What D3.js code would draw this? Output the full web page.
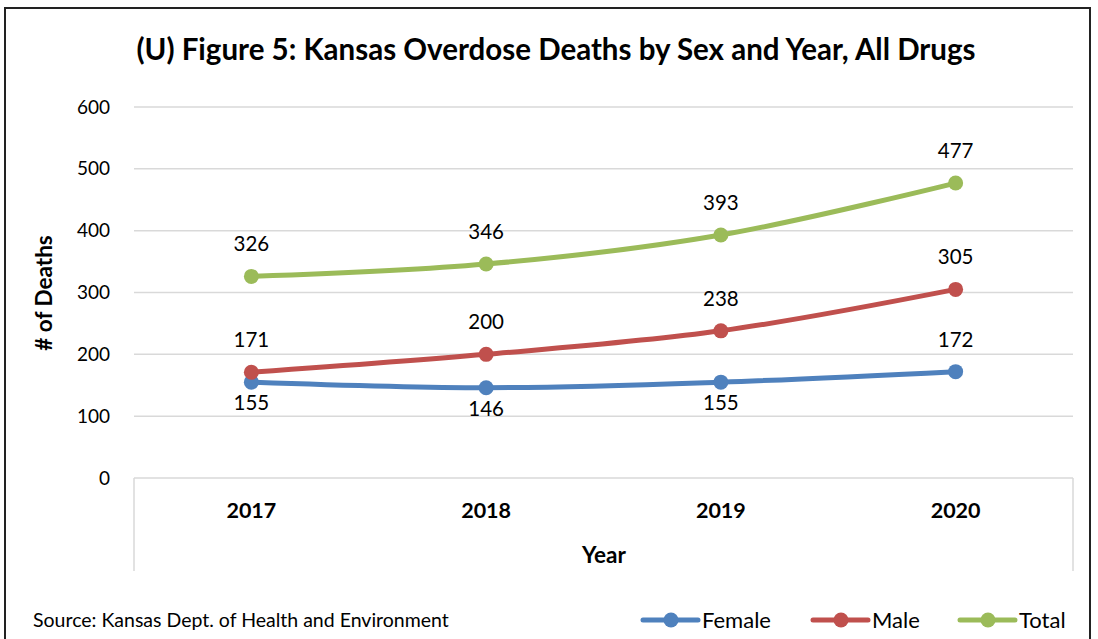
<!DOCTYPE html>
<html><head><meta charset="utf-8">
<script src="https://cdn.jsdelivr.net/npm/d3@7"></script>
<style>body{margin:0;background:#fff}svg{display:block}text{font-family:Lato,"Open Sans",sans-serif;fill:#000}</style>
</head><body>
<script>
const years = ["2017","2018","2019","2020"];
const female = [155,146,155,172];
const male = [171,200,238,305];
const total = [326,346,393,477];
const yTicks = [0,100,200,300,400,500,600];
const seriesNames = ["Female","Male","Total"];
const seriesColors = ["#4F81BD","#C0504D","#9BBB59"];
const labelPos = [["below","below","below","above"],["above","above","above","above"],["above","above","above","above"]];

const W=1098,H=639;
const svg=d3.select("body").append("svg").attr("width",W).attr("height",H);
svg.append("rect").attr("x",5).attr("y",8).attr("width",1085).attr("height",H).attr("fill","#fff").attr("stroke","#222").attr("stroke-width",2);

const x=d3.scaleBand().domain(years).range([134,1073]);
const y=d3.scaleLinear().domain([0,600]).range([478,107]);

svg.append("g").selectAll("line").data(yTicks).join("line")
 .attr("x1",134).attr("x2",1073).attr("y1",d=>y(d)).attr("y2",d=>y(d))
 .attr("stroke","#d9d9d9").attr("stroke-width",1.5);
svg.append("g").selectAll("line").data([134,1073]).join("line")
 .attr("x1",d=>d).attr("x2",d=>d).attr("y1",y(0)).attr("y2",571)
 .attr("stroke","#d9d9d9").attr("stroke-width",1.5);

svg.append("g").selectAll("text").data(yTicks).join("text")
 .attr("x",110).attr("y",d=>y(d)).attr("dy","0.35em").attr("text-anchor","end")
 .attr("font-size",19).text(d=>d);
svg.append("g").selectAll("text").data(years).join("text")
 .attr("x",d=>x(d)+x.bandwidth()/2).attr("y",518).attr("text-anchor","middle")
 .attr("font-size",21.5).attr("font-weight","bold").text(d=>d);

svg.append("text").attr("x",556).attr("y",60).attr("text-anchor","middle")
 .attr("font-size",29.5).attr("font-weight","bold").text("(U) Figure 5: Kansas Overdose Deaths by Sex and Year, All Drugs");
svg.append("text").attr("x",604).attr("y",563).attr("text-anchor","middle")
 .attr("font-size",22.5).attr("font-weight","bold").text("Year");
svg.append("text").attr("transform","translate(52,293) rotate(-90)").attr("text-anchor","middle")
 .attr("font-size",22.5).attr("font-weight","bold").text("# of Deaths");
svg.append("text").attr("x",33).attr("y",627).attr("font-size",19.5).text("Source: Kansas Dept. of Health and Environment");

const data=[female,male,total];
const line=d3.line().x((d,i)=>x(years[i])+x.bandwidth()/2).y(d=>y(d)).curve(d3.curveCatmullRom.alpha(0.5));
data.forEach((s,k)=>{
  const g=svg.append("g");
  g.append("path").attr("d",line(s)).attr("fill","none").attr("stroke",seriesColors[k]).attr("stroke-width",5).attr("stroke-linecap","round");
  g.selectAll("circle").data(s).join("circle").attr("cx",(d,i)=>x(years[i])+x.bandwidth()/2).attr("cy",d=>y(d)).attr("r",7.5).attr("fill",seriesColors[k]);
  g.selectAll("text").data(s).join("text").attr("x",(d,i)=>x(years[i])+x.bandwidth()/2)
   .attr("y",(d,i)=>labelPos[k][i]==="above"?y(d)-25:y(d)+28).attr("text-anchor","middle").attr("font-size",20.5).text(d=>d);
});

const legX=[643,813,960];
seriesNames.forEach((n,k)=>{
  const g=svg.append("g").attr("transform",`translate(${legX[k]},620)`);
  g.append("line").attr("x1",0).attr("x2",55).attr("stroke",seriesColors[k]).attr("stroke-width",5).attr("stroke-linecap","round");
  g.append("circle").attr("cx",28).attr("r",7.5).attr("fill",seriesColors[k]);
  g.append("text").attr("x",59).attr("y",0).attr("dy","0.35em").attr("font-size",22).text(n);
});
</script>
</body></html>
